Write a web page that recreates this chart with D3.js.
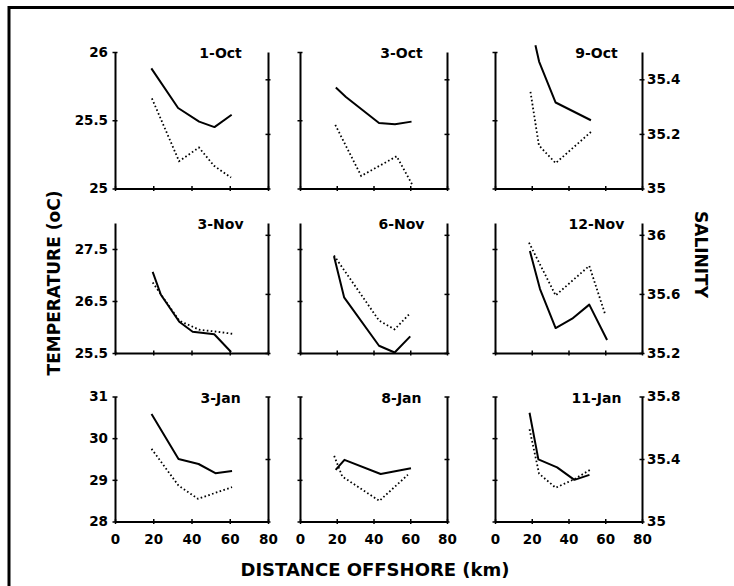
<!DOCTYPE html>
<html>
<head>
<meta charset="utf-8">
<script src="https://cdn.jsdelivr.net/npm/d3@7"></script>
<style>
  html, body { margin: 0; padding: 0; background: #fff; }
  svg { display: block; }
  text { font-family: "DejaVu Sans", sans-serif; font-weight: bold; fill: #000; }
</style>
</head>
<body>
<svg id="chart" width="734" height="586"></svg>
<script>
// Survey dates, one small panel each (3 x 3 grid, row by row)
const dates = ["1-Oct", "3-Oct", "9-Oct", "3-Nov", "6-Nov", "12-Nov", "3-Jan", "8-Jan", "11-Jan"];

// Temperature (solid line): station distance offshore (km) and value (oC)
const tempKm = [
  [19, 33, 44, 52, 61],
  [19.5, 25, 43, 51.7, 60.7],
  [22, 24, 33, 52.2],
  [19.7, 24, 33.6, 40.6, 51.9, 60.7],
  [18.5, 24, 43, 51.5, 60],
  [19, 24.5, 33, 42, 51.3, 61],
  [19.1, 33.2, 43.7, 52.5, 61.2],
  [19.4, 24.2, 43.9, 60.4],
  [18.8, 23.6, 33.8, 43.2, 51.4]
];
const tempValues = [
  [25.88, 25.59, 25.49, 25.45, 25.54],
  [25.74, 25.67, 25.48, 25.47, 25.49],
  [26.05, 25.93, 25.63, 25.5],
  [27.06, 26.62, 26.1, 25.91, 25.86, 25.52],
  [27.36, 26.57, 25.64, 25.51, 25.82],
  [27.46, 26.73, 25.98, 26.16, 26.43, 25.75],
  [30.58, 29.5, 29.38, 29.16, 29.21],
  [29.24, 29.48, 29.14, 29.28],
  [30.61, 29.49, 29.3, 29.0, 29.12]
];

// Salinity (dotted line): station distance offshore (km) and value
const salKm = [
  [19.3, 33.5, 43.9, 51.8, 60.7],
  [19.2, 33.3, 52.6, 61],
  [19.3, 23.9, 33, 52.2],
  [19.7, 33.6, 43.9, 51.9, 61.5],
  [18.5, 43, 51.5, 60],
  [18.5, 33, 51.3, 60],
  [19.1, 33.2, 43.4, 61.2],
  [18.6, 23, 43.2, 58.7],
  [18.8, 24, 33, 43, 51.7]
];
const salValues = [
  [35.33, 35.1, 35.15, 35.083, 35.04],
  [35.233, 35.046, 35.118, 35.015],
  [35.354, 35.158, 35.093, 35.207],
  [35.677, 35.419, 35.358, 35.346, 35.33],
  [35.86, 35.42, 35.36, 35.47],
  [35.947, 35.59, 35.79, 35.46],
  [35.465, 35.23, 35.145, 35.22],
  [35.42, 35.288, 35.132, 35.299],
  [35.59, 35.306, 35.216, 35.27, 35.33]
];

// Axis ranges and ticks, one entry per row of panels
const tempDomains = [[25, 26], [25.5, 28], [28, 31]];
const salDomains = [[35, 35.5], [35.2, 36.08], [35, 35.8]];
const tempTicks = [[25, 25.5, 26], [25.5, 26.5, 27.5], [28, 29, 30, 31]];
const tempTickLabels = [["25", "25.5", "26"], ["25.5", "26.5", "27.5"], ["28", "29", "30", "31"]];
const salTicks = [[35, 35.2, 35.4], [35.2, 35.6, 36], [35, 35.4, 35.8]];
const salTickLabels = [["35", "35.2", "35.4"], ["35.2", "35.6", "36"], ["35", "35.4", "35.8"]];
const kmTicks = [0, 20, 40, 60, 80];
const kmTickLabels = ["0", "20", "40", "60", "80"];
const kmDomain = [0, 80];

// Axis titles
const titleTemp = "TEMPERATURE (oC)";
const titleSal = "SALINITY";
const titleKm = "DISTANCE OFFSHORE (km)";

// ---- layout ----
const svg = d3.select("#chart");
const colX = [[115, 268], [300, 447], [495, 642]];
const rowY = [[52, 188.5], [223, 353], [396.5, 521.5]];
const tickFont = 13.5;

// figure frame (top and left edges)
svg.append("line").attr("x1", 8).attr("x2", 734).attr("y1", 7.5).attr("y2", 7.5)
  .attr("stroke", "#000").attr("stroke-width", 3);
svg.append("line").attr("x1", 9).attr("x2", 9).attr("y1", 6).attr("y2", 586)
  .attr("stroke", "#000").attr("stroke-width", 3);

function styleAxis(g, crossX) {
  g.attr("font-family", null).attr("font-size", null);
  g.select(".domain").attr("stroke", "#000").attr("stroke-width", 2);
  g.selectAll(".tick line").attr("stroke", "#000").attr("stroke-width", 1.5);
  if (crossX) g.selectAll(".tick line").attr("x1", -2.5).attr("x2", 2.5);
  else g.selectAll(".tick line").attr("y1", -2.5).attr("y2", 2.5);
  g.selectAll(".tick text").style("font-size", tickFont + "px");
}

dates.forEach((date, i) => {
  const r = Math.floor(i / 3), c = i % 3;
  const [x0, x1] = colX[c];
  const [y0, y1] = rowY[r];

  const x = d3.scaleLinear().domain(kmDomain).range([x0, x1]);
  const yT = d3.scaleLinear().domain(tempDomains[r]).range([y1, y0]);
  const yS = d3.scaleLinear().domain(salDomains[r]).range([y1, y0]);

  const panel = svg.append("g").attr("class", "panel");

  // bottom axis
  const gx = panel.append("g").attr("transform", `translate(0,${y1})`)
    .call(d3.axisBottom(x).tickValues(kmTicks)
      .tickFormat((d, k) => r === 2 ? kmTickLabels[k] : "")
      .tickSizeOuter(0).tickSizeInner(3).tickPadding(10));
  styleAxis(gx, false);

  // left (temperature) axis
  const gl = panel.append("g").attr("transform", `translate(${x0},0)`)
    .call(d3.axisLeft(yT).tickValues(tempTicks[r])
      .tickFormat((d, k) => c === 0 ? tempTickLabels[r][k] : "")
      .tickSizeOuter(0).tickSizeInner(3).tickPadding(4));
  styleAxis(gl, true);

  // right (salinity) axis
  const gr = panel.append("g").attr("transform", `translate(${x1},0)`)
    .call(d3.axisRight(yS).tickValues(salTicks[r])
      .tickFormat((d, k) => c === 2 ? salTickLabels[r][k] : "")
      .tickSizeOuter(0).tickSizeInner(3).tickPadding(2));
  styleAxis(gr, true);

  // temperature: solid line
  const tPts = tempKm[i].map((k, j) => [k, tempValues[i][j]]);
  panel.append("path").datum(tPts)
    .attr("fill", "none").attr("stroke", "#000").attr("stroke-width", 2)
    .attr("stroke-linejoin", "round")
    .attr("d", d3.line().x(d => x(d[0])).y(d => yT(d[1])));

  // salinity: dotted line
  const sPts = salKm[i].map((k, j) => [k, salValues[i][j]]);
  panel.append("path").datum(sPts)
    .attr("fill", "none").attr("stroke", "#000").attr("stroke-width", 1.8)
    .attr("stroke-dasharray", "1.6,2.4")
    .attr("d", d3.line().x(d => x(d[0])).y(d => yS(d[1])));

  // date label
  panel.append("text")
    .attr("x", x0 + 0.69 * (x1 - x0)).attr("y", y0 + 6)
    .attr("text-anchor", "middle").style("font-size", "14px")
    .text(date);
});

// axis titles
svg.append("text")
  .attr("transform", "translate(60,283) rotate(-90)")
  .attr("text-anchor", "middle").style("font-size", "17px")
  .text(titleTemp);
svg.append("text")
  .attr("transform", "translate(695,254.5) rotate(90)")
  .attr("text-anchor", "middle").style("font-size", "17px")
  .text(titleSal);
svg.append("text")
  .attr("x", 375).attr("y", 575.5)
  .attr("text-anchor", "middle").style("font-size", "18px")
  .text(titleKm);
</script>
</body>
</html>
